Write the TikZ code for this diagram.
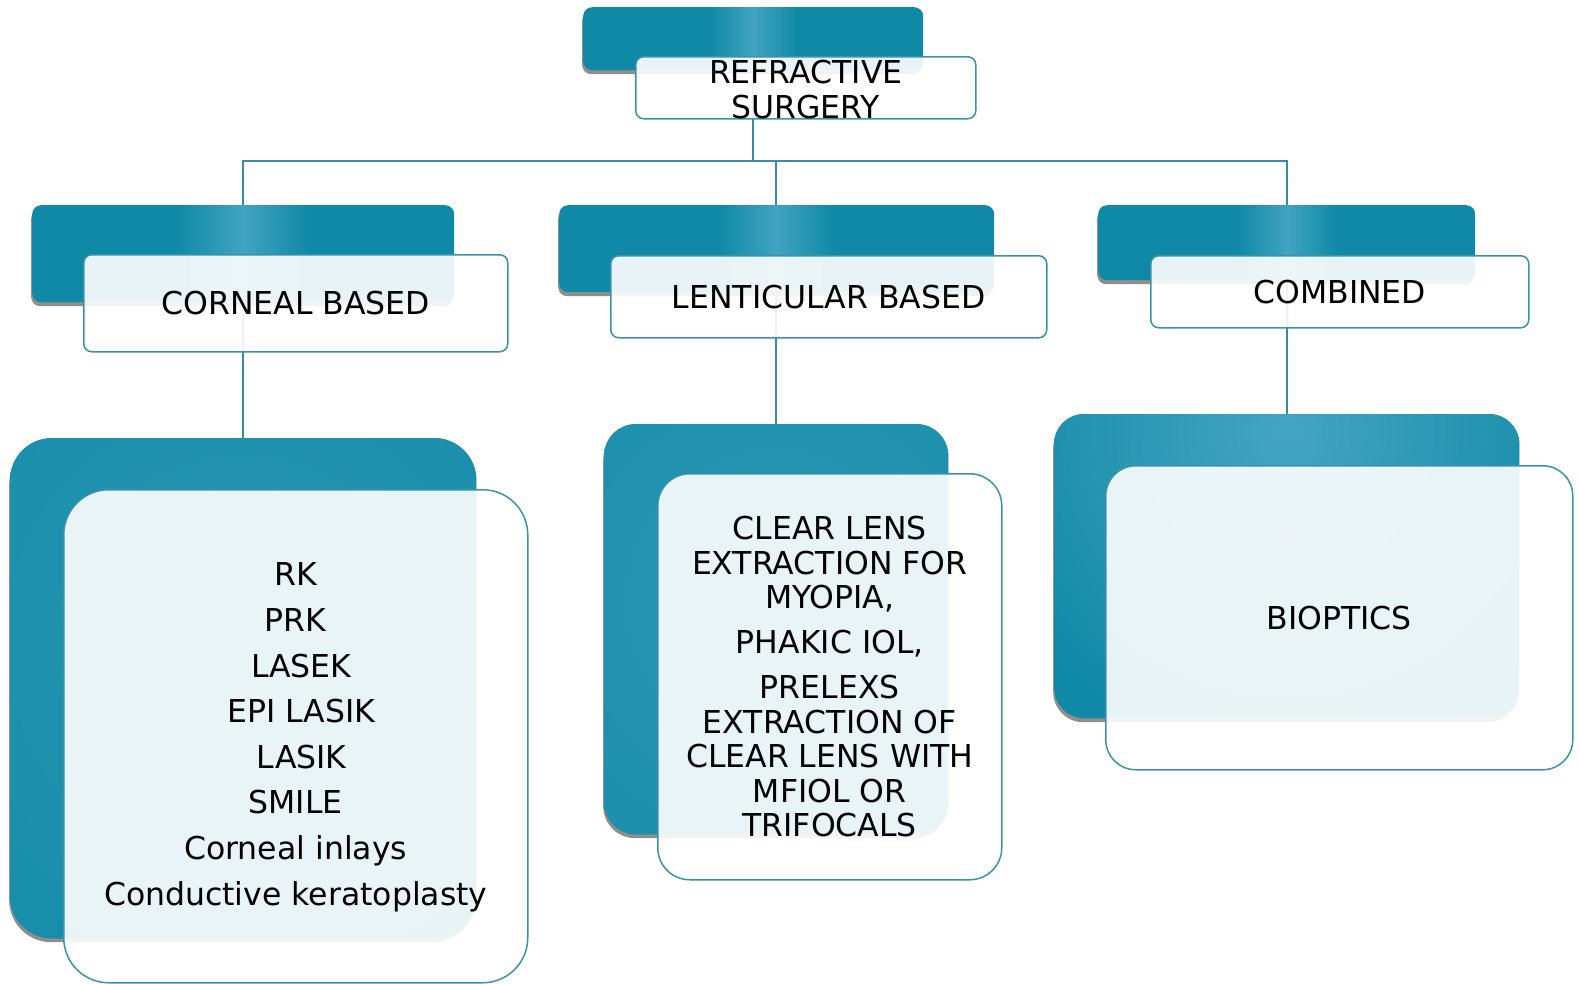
\documentclass[tikz,border=0pt]{standalone}
\usepackage{fontspec}
\setmainfont{DejaVu Sans}
\usetikzlibrary{shadows}
\definecolor{tealA}{HTML}{0F89A6}
\definecolor{tealL}{HTML}{4AA8C4}
\definecolor{edgeC}{HTML}{3A93AA}
\definecolor{lineC}{HTML}{3A8CA2}
\definecolor{shadowC}{HTML}{8E8E8E}
\begin{document}
\begin{tikzpicture}[x=1pt,y=-1pt,
  backbox/.style={draw=none, fill=tealA, anchor=north west, inner sep=0pt,
    drop shadow={shadow xshift=-1pt, shadow yshift=-4pt, fill=shadowC, opacity=1}},
  frontbox/.style={draw=edgeC, line width=1.5pt, fill=white, fill opacity=0.9,
    anchor=north west, inner sep=0pt},
  lbl/.style={align=center, inner sep=0pt, text=black},
  conn/.style={draw=lineC, line width=2pt},
  hdfont/.style={font=\fontsize{31.5}{35}\selectfont},
  band/.style={left color=tealA, right color=tealA, middle color=tealL!85!tealA},
]
\useasboundingbox (0,0) rectangle (1579,983);
\coordinate (bus) at (0,161);

% connector anchor points (centres of the back boxes)
\path (753,38) coordinate (rfC);
\path (243,253) coordinate (cbC) (776,248) coordinate (lbC) (1287,242) coordinate (coC);
\path (243,688) coordinate (cbBotC) (776,629) coordinate (lbBotC) (1287,566) coordinate (coBotC);
\draw[conn] (rfC) |- (cbC |- bus) -- (cbC) -- (cbBotC);
\draw[conn] (rfC) |- (lbC |- bus) -- (lbC) -- (lbBotC);
\draw[conn] (rfC) |- (coC |- bus) -- (coC) -- (coBotC);

% ---------- REFRACTIVE SURGERY ----------
\node[backbox, rounded corners=9pt, minimum width=340pt, minimum height=63pt] (rfB) at (583,7) {};
\begin{scope}
  \clip[rounded corners=9pt] (rfB.north west) rectangle (rfB.south east);
  \shade[band] (710,7) rectangle (797,70);
\end{scope}
\node[frontbox, rounded corners=8pt, minimum width=340pt, minimum height=62pt] (rfF) at (635,56) {};
\node[lbl, hdfont] (rfT) at ([yshift=-1.5pt]rfF.center) {REFRACTIVE\\SURGERY};

% ---------- CORNEAL BASED ----------
\node[backbox, rounded corners=9pt, minimum width=422pt, minimum height=97pt] (cbB) at (32,205) {};
\begin{scope}
  \clip[rounded corners=9pt] (cbB.north west) rectangle (cbB.south east);
  \shade[band] (176,205) rectangle (310,302);
\end{scope}
\node[frontbox, rounded corners=8pt, minimum width=424pt, minimum height=97pt] (cbF) at (83,254) {};
\node[lbl, hdfont] (cbT) at (cbF.center) {CORNEAL BASED};

% ---------- LENTICULAR BASED ----------
\node[backbox, rounded corners=9pt, minimum width=435pt, minimum height=87pt] (lbB) at (559,205) {};
\begin{scope}
  \clip[rounded corners=9pt] (lbB.north west) rectangle (lbB.south east);
  \shade[band] (718,205) rectangle (834,292);
\end{scope}
\node[frontbox, rounded corners=8pt, minimum width=436pt, minimum height=82pt] (lbF) at (610,255) {};
\node[lbl, hdfont] (lbT) at (lbF.center) {LENTICULAR BASED};

% ---------- COMBINED ----------
\node[backbox, rounded corners=9pt, minimum width=377pt, minimum height=75pt] (coB) at (1098,205) {};
\begin{scope}
  \clip[rounded corners=9pt] (coB.north west) rectangle (coB.south east);
  \shade[band] (1237,205) rectangle (1337,280);
\end{scope}
\node[frontbox, rounded corners=8pt, minimum width=378pt, minimum height=72pt] (coF) at (1150,255) {};
\node[lbl, hdfont] (coT) at (coF.center) {COMBINED};

% ---------- bottom: corneal list ----------
\node[backbox, rounded corners=42pt, minimum width=466pt, minimum height=500pt] (cbBot) at (10,438) {};
\begin{scope}
  \clip[rounded corners=42pt] (cbBot.north west) rectangle (cbBot.south east);
  \shade[inner color=tealL!40!tealA, outer color=tealA] (243,640) circle (600pt);
\end{scope}
\node[frontbox, rounded corners=45pt, minimum width=464pt, minimum height=493pt] (cbBotF) at (63,489) {};
\node[lbl, font=\fontsize{31.5}{45.6}\selectfont] (cbBotT) at ([yshift=-1pt]cbBotF.center)
  {RK\\PRK\hspace{10pt}\\\hspace{11pt}LASEK\\\hspace{11pt}EPI LASIK\\\hspace{12pt}LASIK\\SMILE\\Corneal inlays\\Conductive keratoplasty};

% ---------- bottom: lenticular list ----------
\node[backbox, rounded corners=32pt, minimum width=344pt, minimum height=410pt] (lbBot) at (604,424) {};
\begin{scope}
  \clip[rounded corners=32pt] (lbBot.north west) rectangle (lbBot.south east);
  \shade[inner color=tealL!45!tealA, outer color=tealA] (776,600) circle (520pt);
\end{scope}
\node[frontbox, rounded corners=32pt, minimum width=344pt, minimum height=406pt] (lbBotF) at (657,473) {};
\node[lbl, font=\fontsize{31.5}{34.5}\selectfont] (lbBotT) at (lbBotF.center)
  {CLEAR LENS\\EXTRACTION FOR\\MYOPIA,\\[10.5pt]PHAKIC IOL,\\[10.5pt]PRELEXS\\EXTRACTION OF\\CLEAR LENS WITH\\MFIOL OR\\TRIFOCALS};

% ---------- bottom: combined ----------
\node[backbox, rounded corners=30pt, minimum width=465pt, minimum height=304pt] (coBot) at (1054,414) {};
\begin{scope}
  \clip[rounded corners=30pt] (coBot.north west) rectangle (coBot.south east);
  \shade[inner color=tealL!90!tealA, outer color=tealA] (1287,430) circle (330pt);
\end{scope}
\node[frontbox, rounded corners=30pt, minimum width=467pt, minimum height=304pt] (coBotF) at (1105,465) {};
\node[lbl, font=\fontsize{31.5}{35}\selectfont] (coBotT) at (coBotF.center) {BIOPTICS};
\end{tikzpicture}
\end{document}
